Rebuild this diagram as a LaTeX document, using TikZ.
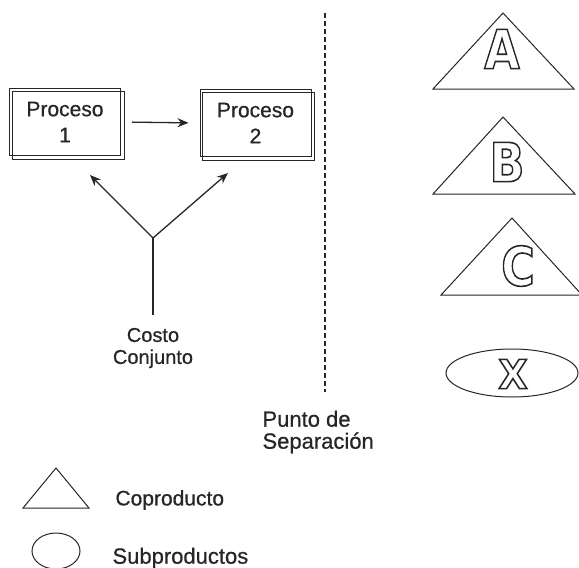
\documentclass[tikz,border=0pt]{standalone}
\usepackage{fontspec}
\setmainfont{Liberation Sans}[FakeBold=0.7]
\newfontfamily\letterfont{DejaVu Sans}
\usepackage{graphicx}
\usetikzlibrary{arrows.meta}
\colorlet{lineColor}{black!85}
\colorlet{textColor}{black!85}
\newcommand{\hollow}[2]{\scalebox{#2}[1]{\special{pdf:literal direct 1 Tr 1.6 w}\letterfont\bfseries #1\special{pdf:literal direct 0 Tr}}}

\begin{document}
\begin{tikzpicture}[x=1pt,y=-1pt,line width=1pt,
  procbox/.style={draw=lineColor,minimum width=111pt,minimum height=67pt,
    align=center,inner sep=0pt,text=textColor,font=\fontsize{21}{26}\selectfont},
  flecha/.style={lineColor,line width=1.3pt,-{Stealth[length=11pt,width=9pt]}},
  txt/.style={text=textColor,inner sep=0pt,font=\fontsize{21}{22}\selectfont},
  letra/.style={inner sep=0pt,text=lineColor,font=\fontsize{54}{54}\selectfont}]
\useasboundingbox (0,0) rectangle (579,568);
% procesos
\node[procbox] (p1) at (65,122) {Proceso\\1};
\node[procbox] (p2) at (255.5,123) {Proceso\\2};
\foreach \n in {p1,p2}
  \draw[lineColor] ([shift={(3,3)}]\n.south west) rectangle ([shift={(3,3)}]\n.north east);
\draw[flecha,shorten <=11pt,shorten >=11pt] (p1.east) -- (p2.west);
% costo conjunto
\coordinate (union) at (153,238);
\coordinate (tip1) at (90,175);
\coordinate (tip2) at (228,173);
\draw[flecha] (union) -- (tip1);
\draw[flecha] (union) -- (tip2);
\node[txt,align=center,font=\fontsize{20}{22}\selectfont] (costo) at (153,348) {Costo\\Conjunto};
\draw[lineColor,line width=1.3pt,shorten >=12pt] (union) -- (costo.north);
% punto de separacion
\coordinate (sepTop) at (325,13);
\coordinate (sepBot) at (325,392);
\draw[lineColor,line width=1.5pt,dash pattern=on 5pt off 3pt] (sepTop) -- (sepBot);
\node[txt,align=left,anchor=west,font=\fontsize{22}{22}\selectfont] (punto) at (262,432) {Punto de\\Separación};
% coproductos y subproducto
\draw[lineColor] (503,13) -- (433,89) -- (574,89) -- cycle;
\draw[lineColor] (503,117) -- (433,194) -- (575,194) -- cycle;
\draw[lineColor] (512,218) -- (441,295) -- (582,295) -- cycle;
\draw[lineColor] (512,373) ellipse [x radius=66pt, y radius=24pt];
\node[letra] (a) at (502,49) {\hollow{A}{0.85}};
\node[letra] (b) at (507,162) {\hollow{B}{0.85}};
\node[letra] (c) at (518,266) {\hollow{C}{0.85}};
\node[letra,font=\fontsize{40}{40}\selectfont] (x) at (513,374) {\hollow{X}{0.95}};
% leyenda
\draw[lineColor] (56,468) -- (23,508) -- (89,508) -- cycle;
\draw[lineColor] (56,551) ellipse [x radius=24pt, y radius=18pt];
\node[txt,anchor=west] (copro) at (115,500) {Coproducto};
\node[txt,anchor=west,font=\fontsize{22}{22}\selectfont] (subpro) at (112,558) {Subproductos};
\end{tikzpicture}
\end{document}
